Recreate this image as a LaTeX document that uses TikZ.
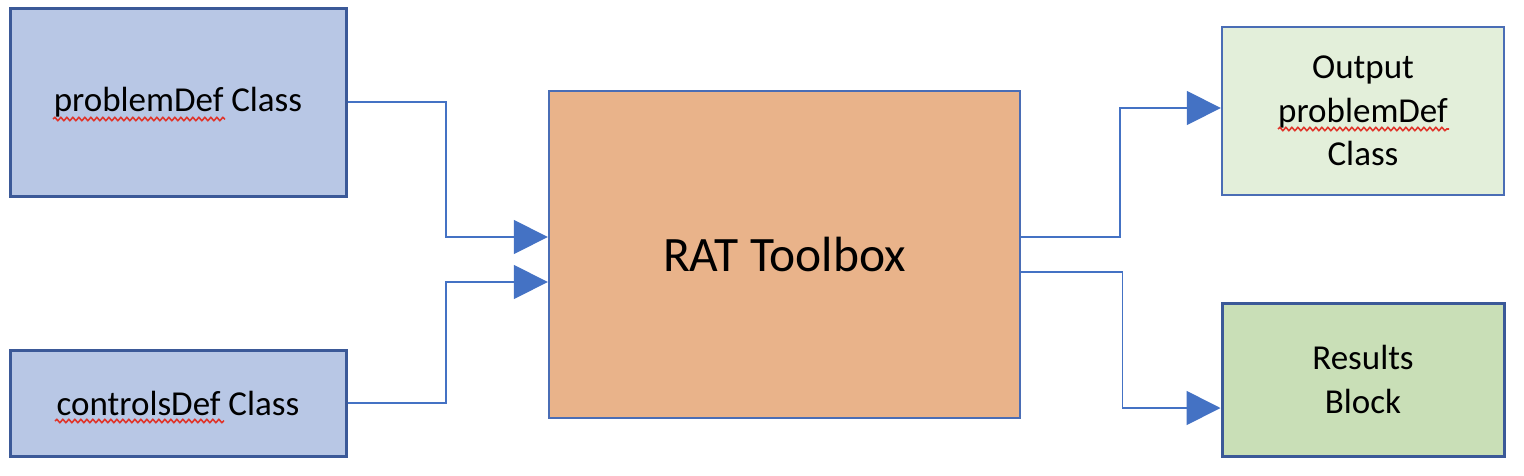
\documentclass[tikz,border=0pt]{standalone}
\usepackage{fontspec}
\setmainfont{Carlito}
\usetikzlibrary{arrows.meta,calc,decorations.pathmorphing}
\definecolor{conncol}{HTML}{4472C4}
\definecolor{darkbord}{HTML}{3B5998}
\definecolor{lightbord}{HTML}{4A6DB5}
\definecolor{bluefill}{HTML}{B8C7E5}
\definecolor{orangefill}{HTML}{E9B38A}
\definecolor{palegreen}{HTML}{E3EFDA}
\definecolor{midgreen}{HTML}{C9DFB7}
\definecolor{squig}{HTML}{E0352B}
\tikzset{
  box/.style={draw, inner sep=0pt, align=center,
    font=\fontsize{35}{43.5}\selectfont},
  inbox/.style={box, fill=bluefill, draw=darkbord, line width=3pt},
  conn/.style={draw=conncol, line width=1.7pt,
    -{Triangle[length=34pt,width=34pt,fill=conncol]}},
  wavy/.style={draw=squig, line width=1.6pt,
    decorate, decoration={snake, amplitude=1.6pt, segment length=6pt}}
}
\begin{document}
\begin{tikzpicture}[x=1pt,y=-1pt]
\useasboundingbox (0,0) rectangle (1524,475);
\node[inbox, minimum width=336pt, minimum height=188pt] (pd) at (178,102) {problemDef Class};
\node[inbox, minimum width=336pt, minimum height=106pt] (cd) at (178,403) {controlsDef Class};
\node[box, fill=orangefill, draw=lightbord, line width=2.4pt,
      minimum width=471pt, minimum height=327pt,
      font=\fontsize{49.5}{58}\selectfont] (rat) at (784.5,254.5) {RAT Toolbox};
\node[box, fill=palegreen, draw=lightbord, line width=2.4pt,
      minimum width=282pt, minimum height=168pt] (out) at (1363,111) {Output\\problemDef\\Class};
\node[box, fill=midgreen, draw=darkbord, line width=3pt,
      minimum width=282pt, minimum height=153pt] (res) at (1363,379.5) {Results\\Block};
% connectors
\draw[conn] (pd.east) -| ($(rat.west)+(-102,-17.5)$) -- ($(rat.west)+(0,-17.5)$);
\draw[conn] (cd.east) -| ($(rat.west)+(-102,27.5)$) -- ($(rat.west)+(0,27.5)$);
\draw[conn] ($(rat.east)+(0,-17.5)$) -| ($(out.west)+(-101,-3)$) -- ($(out.west)+(0,-3)$);
\draw[conn] ($(rat.east)+(0,17.5)$) -| ($(res.west)+(-98,28.5)$) -- ($(res.west)+(0,28.5)$);
% spell-check squiggles
\draw[wavy] (53,119) -- (225,119);
\draw[wavy] (55,421) -- (224,421);
\draw[wavy] (1278,129) -- (1449,129);
\end{tikzpicture}
\end{document}
